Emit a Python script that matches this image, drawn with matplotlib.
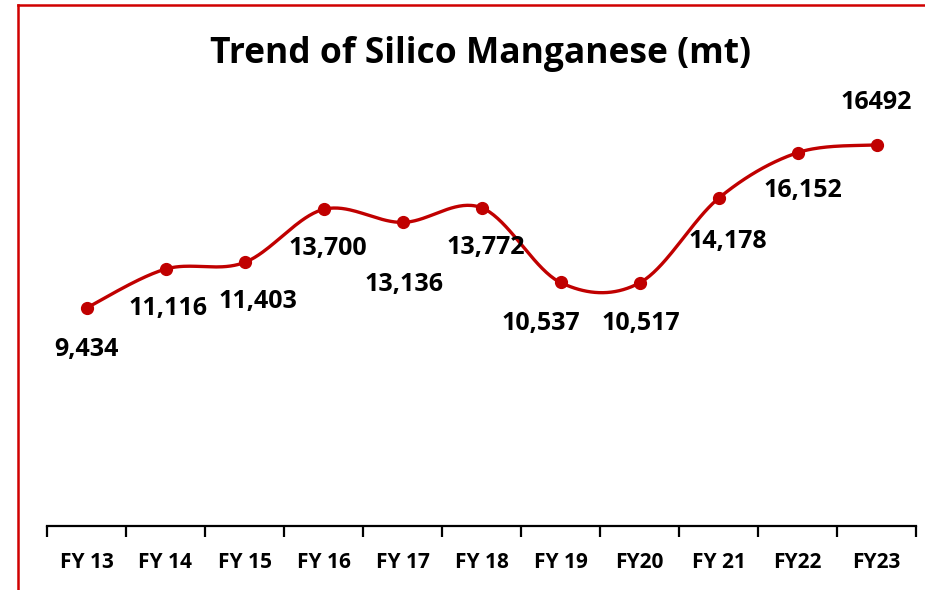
import matplotlib
matplotlib.use("Agg")
import matplotlib.pyplot as plt
from matplotlib.lines import Line2D
import numpy as np

years = ["FY 13", "FY 14", "FY 15", "FY 16", "FY 17", "FY 18",
         "FY 19", "FY20", "FY 21", "FY22", "FY23"]
production = [9434, 11116, 11403, 13700, 13136, 13772,
              10537, 10517, 14178, 16152, 16492]
labels = ["9,434", "11,116", "11,403", "13,700", "13,136", "13,772",
          "10,537", "10,517", "14,178", "16,152", "16492"]
# label offsets from each point (pixels)
label_dx = [0, 2, 13, 4, 2, 4, -20, 1, 9, 5, 0]
label_dy = [-42, -39, -39, -39, -62, -40, -41, -41, -43, -38, 42]

RED = "#C00000"
plt.rcParams["font.family"] = ["Open Sans", "DejaVu Sans"]
plt.rcParams["font.weight"] = "bold"


def smooth(xs, ys, n=40):
    # cubic bezier through the points, catmull-rom style control points
    pts = np.column_stack([xs, ys]).astype(float)
    out = []
    for i in range(len(pts) - 1):
        p0 = pts[max(i - 1, 0)]
        p1 = pts[i]
        p2 = pts[i + 1]
        p3 = pts[min(i + 2, len(pts) - 1)]
        c1 = p1 + (p2 - p0) / 6
        c2 = p2 - (p3 - p1) / 6
        t = np.linspace(0, 1, n)[:, None]
        seg = ((1 - t) ** 3 * p1 + 3 * (1 - t) ** 2 * t * c1
               + 3 * (1 - t) * t ** 2 * c2 + t ** 3 * p2)
        out.append(seg if i == 0 else seg[1:])
    out = np.vstack(out)
    return out[:, 0], out[:, 1]


fig = plt.figure(figsize=(9.25, 5.9), dpi=100)
ax = fig.add_axes([47 / 925, 1 - 526 / 590, 869 / 925, 416 / 590])

x = np.arange(len(years))
sx, sy = smooth(x, production)
ax.plot(sx, sy, color=RED, lw=2.4, solid_capstyle="round")
ax.plot(x, production, "o", color=RED, ms=8.5)

for xi, yi, lab, dx, dy in zip(x, production, labels, label_dx, label_dy):
    ax.annotate(lab, (xi, yi), xytext=(dx, dy), textcoords="offset pixels",
                ha="center", va="center", fontsize=18, fontweight="bold")

ax.set_xlim(-0.5, len(years) - 0.5)
ax.set_ylim(0, 18000)
for s in ["top", "right", "left"]:
    ax.spines[s].set_visible(False)
ax.spines["bottom"].set_linewidth(1.6)
ax.set_yticks([])
ax.set_xticks(x)
ax.set_xticklabels(years, fontsize=15, fontweight="bold")
ax.tick_params(axis="x", which="major", length=0, pad=19)
ax.set_xticks(np.arange(-0.5, len(years)), minor=True)
ax.tick_params(axis="x", which="minor", length=8, width=1.6, direction="out")

fig.text(0.520, 1 - 54 / 590, "Trend of Silico Manganese (mt)",
         ha="center", va="center", fontsize=25.5, fontweight="bold")

# red frame along the top and left edge
fig.add_artist(Line2D([17.5 / 925, 1], [1 - 4.5 / 590, 1 - 4.5 / 590],
                      color="#D00000", lw=1.8))
fig.add_artist(Line2D([17.5 / 925, 17.5 / 925], [0, 1 - 4.5 / 590],
                      color="#D00000", lw=1.8))

fig.savefig("out.png", dpi=100)
